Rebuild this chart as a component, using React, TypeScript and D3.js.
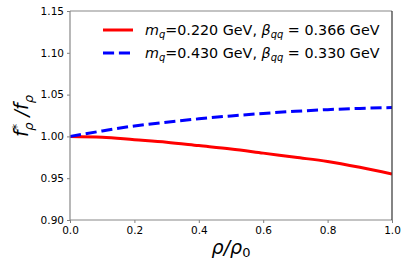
import { useEffect, useRef } from "react";
import * as d3 from "d3";

const rho = [0, 0.1, 0.2, 0.3, 0.4, 0.5, 0.6, 0.7, 0.8, 0.9, 1.0];
const ratioA = [1.0, 0.999, 0.996, 0.993, 0.989, 0.985, 0.98, 0.975, 0.97, 0.963, 0.955];
const ratioB = [1.0, 1.0065, 1.0125, 1.017, 1.021, 1.0245, 1.0275, 1.03, 1.032, 1.0335, 1.0345];
const xTicks = [0, 0.2, 0.4, 0.6, 0.8, 1.0];
const yTicks = [0.9, 0.95, 1.0, 1.05, 1.1, 1.15];
const seriesA = { mq: "0.220", beta: "0.366" };
const seriesB = { mq: "0.430", beta: "0.330" };

const W = 408;
const H = 268;
const m = { left: 70, right: 392, top: 11, bottom: 220 };
const font = "DejaVu Sans";

export default function App() {
  const svgRef = useRef<SVGSVGElement>(null);

  useEffect(() => {
    const svg = d3.select(svgRef.current);
    svg.selectAll("*").remove();

    const x = d3.scaleLinear().domain([0, 1]).range([m.left, m.right]);
    const y = d3.scaleLinear().domain([0.9, 1.15]).range([m.bottom, m.top]);

    svg.append("rect").attr("width", W).attr("height", H).attr("fill", "white");

    const line = d3
      .line<number>()
      .x((_, i) => x(rho[i]))
      .y((d) => y(d))
      .curve(d3.curveMonotoneX);

    const clip = svg.append("clipPath").attr("id", "plotclip");
    clip
      .append("rect")
      .attr("x", m.left)
      .attr("y", m.top)
      .attr("width", m.right - m.left)
      .attr("height", m.bottom - m.top);

    const plot = svg.append("g").attr("clip-path", "url(#plotclip)");
    plot
      .append("path")
      .attr("d", line(ratioA))
      .attr("fill", "none")
      .attr("stroke", "#ff0000")
      .attr("stroke-width", 3);
    plot
      .append("path")
      .attr("d", line(ratioB))
      .attr("fill", "none")
      .attr("stroke", "#0000ff")
      .attr("stroke-width", 3)
      .attr("stroke-dasharray", "11.1,4.8");

    // axes
    const xAxis = svg
      .append("g")
      .attr("transform", `translate(0,${m.bottom})`)
      .call(
        d3
          .axisBottom(x)
          .tickValues(xTicks)
          .tickSize(3)
          .tickPadding(4)
          .tickFormat(d3.format(".1f"))
      );
    const yAxis = svg
      .append("g")
      .attr("transform", `translate(${m.left},0)`)
      .call(
        d3
          .axisLeft(y)
          .tickValues(yTicks)
          .tickSize(3)
          .tickPadding(3)
          .tickFormat(d3.format(".2f"))
      );
    [xAxis, yAxis].forEach((g) => {
      g.select(".domain").remove();
      g.selectAll(".tick line").attr("stroke", "#808080");
      g.selectAll(".tick text")
        .attr("fill", "#000")
        .style("font-family", font)
        .style("font-size", "10.5px");
    });

    // spines
    svg
      .append("line")
      .attr("x1", m.left).attr("x2", m.left)
      .attr("y1", m.top).attr("y2", m.bottom)
      .attr("stroke", "#888").attr("stroke-width", 1.2);
    svg
      .append("line")
      .attr("x1", m.left).attr("x2", m.right)
      .attr("y1", m.bottom).attr("y2", m.bottom)
      .attr("stroke", "#888").attr("stroke-width", 1.2);
    svg
      .append("line")
      .attr("x1", m.left).attr("x2", m.right)
      .attr("y1", m.top).attr("y2", m.top)
      .attr("stroke", "#888").attr("stroke-width", 1.2);
    svg
      .append("line")
      .attr("x1", m.right).attr("x2", m.right)
      .attr("y1", m.top).attr("y2", m.bottom)
      .attr("stroke", "#333").attr("stroke-width", 1.2);

    // legend
    const legend = [
      { s: seriesA, color: "#ff0000", dash: null, yy: 30 },
      { s: seriesB, color: "#0000ff", dash: "11.1,4.8", yy: 53 },
    ];
    legend.forEach((l) => {
      svg
        .append("line")
        .attr("x1", 103).attr("x2", 133)
        .attr("y1", l.yy).attr("y2", l.yy)
        .attr("stroke", l.color)
        .attr("stroke-width", 3)
        .attr("stroke-dasharray", l.dash);
      const t = svg
        .append("text")
        .attr("x", 145)
        .attr("y", l.yy + 5)
        .style("font-family", font)
        .style("font-size", "14.3px")
        .attr("fill", "#000");
      t.append("tspan").attr("font-style", "italic").text("m");
      t.append("tspan").attr("font-style", "italic").attr("font-size", "10px").attr("dy", 3).text("q");
      t.append("tspan").attr("dy", -3).text(`=${l.s.mq} GeV, `);
      t.append("tspan").attr("font-style", "italic").text("β");
      t.append("tspan").attr("font-style", "italic").attr("font-size", "10px").attr("dy", 3).text("qq");
      t.append("tspan").attr("dy", -3).text(` = ${l.s.beta} GeV`);
    });

    // x label
    const xl = svg
      .append("text")
      .attr("x", (m.left + m.right) / 2)
      .attr("y", 254)
      .attr("text-anchor", "middle")
      .style("font-family", font)
      .style("font-size", "19px")
      .attr("fill", "#000");
    xl.append("tspan").attr("font-style", "italic").text("ρ/ρ");
    xl.append("tspan").attr("font-size", "13px").attr("dy", 3).text("0");

    // y label
    const yl = svg
      .append("text")
      .attr("transform", `translate(28,116) rotate(-90)`)
      .attr("text-anchor", "middle")
      .style("font-family", font)
      .style("font-size", "19px")
      .attr("font-style", "italic")
      .attr("fill", "#000");
    yl.append("tspan").text("f");
    yl.append("tspan").attr("font-size", "13px").attr("dy", -7).text("*");
    yl.append("tspan").attr("font-size", "13px").attr("dx", -7).attr("dy", 12).text("ρ");
    yl.append("tspan").attr("dy", -5).text(" /f");
    yl.append("tspan").attr("font-size", "13px").attr("dy", 5).text("ρ");
  }, []);

  return (
    <svg
      ref={svgRef}
      width={W}
      height={H}
      style={{ position: "absolute", left: 0, top: 0 }}
    />
  );
}
